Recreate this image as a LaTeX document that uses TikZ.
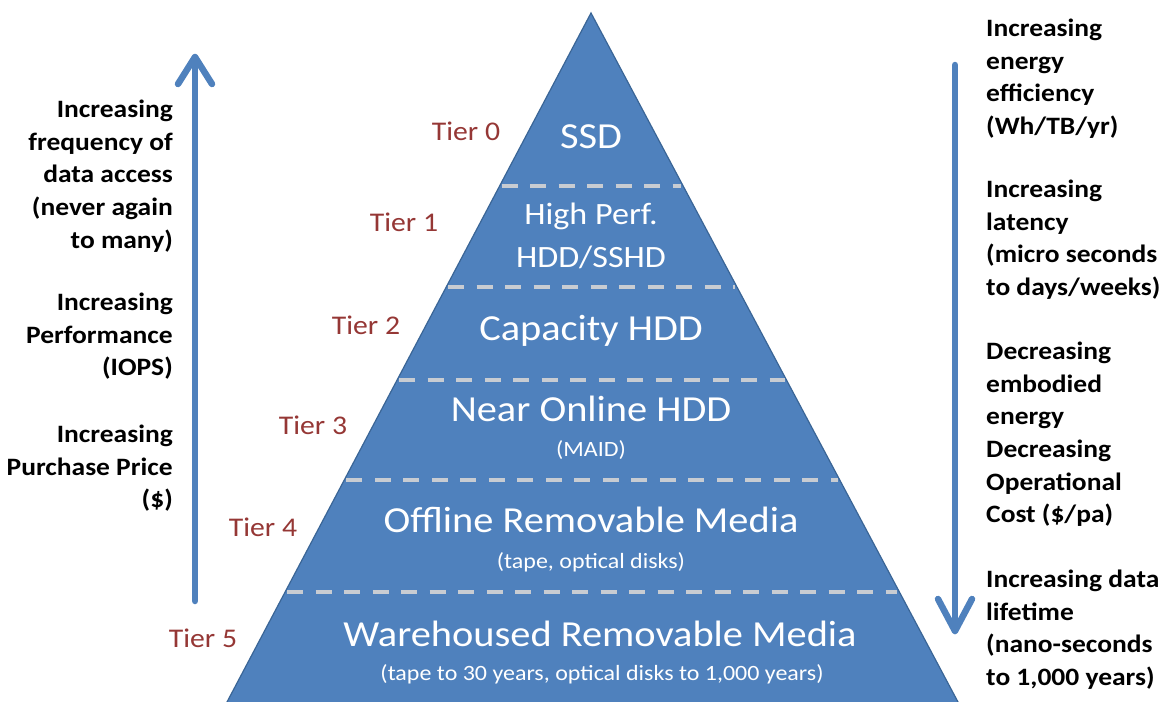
\documentclass[tikz,border=0pt]{standalone}
\usepackage{fontspec}
\setmainfont{Carlito}[FakeStretch=1.1]
\usetikzlibrary{calc}

\definecolor{tierblue}{HTML}{4F81BD}
\definecolor{tieredge}{HTML}{3A6596}
\definecolor{tierred}{HTML}{953735}
\definecolor{divgray}{HTML}{C8CCD2}

\begin{document}
\begin{tikzpicture}[x=1pt,y=-1pt,
  sidenote/.style={inner sep=0pt, font=\bfseries\fontsize{25}{32.6}\selectfont},
  tierlabel/.style={inner sep=0pt, text=tierred, font=\fontsize{27}{32}\selectfont, anchor=base},
  layername/.style={inner sep=0pt, text=white, font=\fontsize{36.7}{43}\selectfont, anchor=base},
  layersmall/.style={layername, font=\fontsize{31}{43}\selectfont},
  layernote/.style={inner sep=0pt, text=white, font=\fontsize{21.8}{25}\selectfont, anchor=base},
  divider/.style={draw=divgray, line width=4.5pt, dash pattern=on 16pt off 12.5pt},
  trend/.style={draw=tierblue, line width=6.5pt, line cap=round, line join=round}]

\useasboundingbox (0,0) rectangle (1163,702);

% the pyramid, cut off by the lower edge of the page
\coordinate (apex) at (591,13);
\coordinate (baseL) at (227,702);
\coordinate (baseR) at (958,702);
\begin{scope}
  \clip (0,0) rectangle (1163,702);
  \filldraw[fill=tierblue, draw=tieredge, line width=1.2pt]
    ($(apex)!1.03!(baseL)$) -- (apex) -- ($(apex)!1.03!(baseR)$) -- cycle;
\end{scope}

% dashed borders between the tiers
\foreach \yy in {186,287,380,480,592}
  \draw[divider] ({591-0.5283*(\yy-13)+2},\yy) -- ({591+0.5327*(\yy-13)-2},\yy);

% tier contents
\node[layername]  (ssd)   at (591,148) {SSD};
\node[layersmall] (hperf) at (591,224) {High Perf.};
\node[layersmall] (sshd)  at (591,267) {HDD/SSHD};
\node[layername]  (cap)   at (591,340) {Capacity HDD};
\node[layername]  (near)  at (591,421) {Near Online HDD};
\node[layernote]  (maid)  at (591,456) {(MAID)};
\node[layername]  (off)   at (591,532) {Offline Removable Media};
\node[layernote]  (offn)  at (591,568) {(tape, optical disks)};
\node[layername]  (ware)  at (600,646) {Warehoused Removable Media};
\node[layernote]  (waren) at (602,680) {(tape to 30 years, optical disks to 1,000 years)};

% tier numbers
\node[tierlabel] (t0) at (466,140) {Tier 0};
\node[tierlabel] (t1) at (404,231) {Tier 1};
\node[tierlabel] (t2) at (366,334) {Tier 2};
\node[tierlabel] (t3) at (313,434) {Tier 3};
\node[tierlabel] (t4) at (263,536) {Tier 4};
\node[tierlabel] (t5) at (203,647) {Tier 5};

% upward trend arrow and its notes
\coordinate (riseFoot) at (195,601);
\coordinate (riseTip) at (195,57);
\draw[trend] (riseFoot) -- (riseTip);
\draw[trend] ([xshift=-17pt,yshift=-27pt]riseTip) -- (riseTip) -- ([xshift=17pt,yshift=-27pt]riseTip);

\node[sidenote, anchor=north east, align=right] (freq) at (173,100)
  {Increasing\\frequency of\\data access\\(never again\\to many)};
\node[sidenote, anchor=north east, align=right] (perf) at (173,293)
  {Increasing\\Performance\\(IOPS)};
\node[sidenote, anchor=north east, align=right] (price) at (173,425)
  {Increasing\\Purchase Price\\(\$)};

% downward trend arrow and its notes
\coordinate (fallHead) at (955,65);
\coordinate (fallTip) at (955,631);
\draw[trend] (fallHead) -- (fallTip);
\draw[trend] ([xshift=-17pt,yshift=32pt]fallTip) -- (fallTip) -- ([xshift=17pt,yshift=32pt]fallTip);

\node[sidenote, anchor=north west, align=left] (energy) at (986,19)
  {Increasing\\energy\\efficiency\\(Wh/TB/yr)};
\node[sidenote, anchor=north west, align=left] (lat) at (986,180)
  {Increasing\\latency\\(micro seconds\\to days/weeks)};
\node[sidenote, anchor=north west, align=left] (embod) at (986,342)
  {Decreasing\\embodied\\energy\\Decreasing\\Operational\\Cost (\$/pa)};
\node[sidenote, anchor=north west, align=left] (life) at (986,570)
  {Increasing data\\lifetime\\(nano-seconds\\to 1,000 years)};

\end{tikzpicture}
\end{document}
